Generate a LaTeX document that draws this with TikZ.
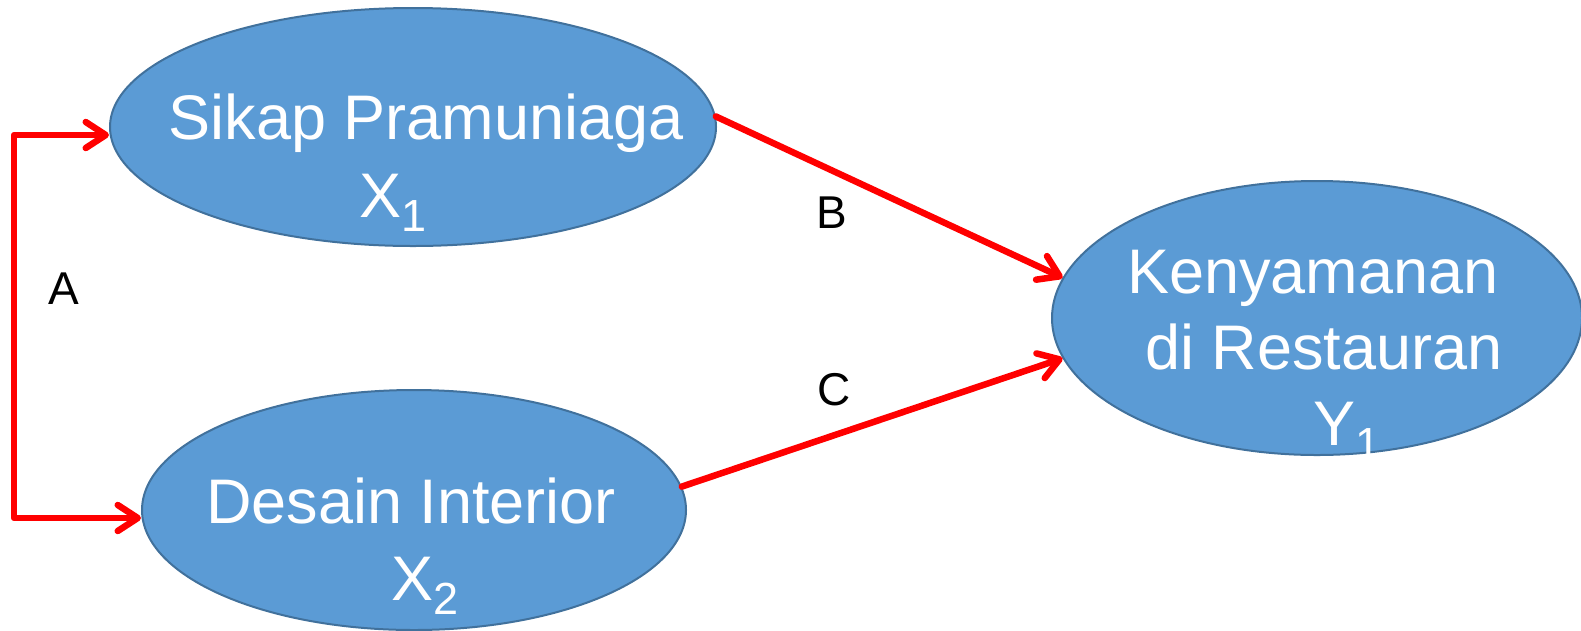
\documentclass[tikz,border=0pt]{standalone}
\usepackage{fontspec}
\setmainfont{Liberation Sans}
\usetikzlibrary{shapes.geometric,arrows.meta}
\definecolor{fillblue}{HTML}{5B9BD5}
\definecolor{edgeblue}{HTML}{41719C}
\newcommand\mysub[1]{\raisebox{-14pt}{\fontsize{45}{45}\selectfont #1}}
\tikzset{
  var/.style={ellipse, draw=edgeblue, line width=2pt, fill=fillblue, inner sep=0pt},
  vtext/.style={anchor=base, text=white, font=\fontsize{63}{63}\selectfont, inner sep=0pt},
  lbl/.style={anchor=base, text=black, font=\fontsize{46}{46}\selectfont, inner sep=0pt},
  barb/.tip={Straight Barb[length=20pt,width=26pt,line width=6.5pt,round]},
  arr/.style={draw=red, line width=6.5pt, line cap=round, line join=round, -barb},
}
\begin{document}
\begin{tikzpicture}[x=1pt,y=-1pt]
\useasboundingbox (0,0) rectangle (1581,630);
\node[var, minimum width=606pt, minimum height=238pt] (s) at (413,127) {};
\node[var, minimum width=544pt, minimum height=240pt] (d) at (414,510) {};
\node[var, minimum width=530pt, minimum height=274pt] (k) at (1317,318) {};
% texts
\node[vtext] (s1) at (426,139) {Sikap Pramuniaga};
\node[vtext] (s2) at (393,217) {X\mysub{1}};
\node[vtext] (d1) at (411,523) {Desain Interior};
\node[vtext] (d2) at (425,600) {X\mysub{2}};
\node[vtext] (k1) at (1313,293) {Kenyamanan};
\node[vtext] (k2) at (1324,369) {di Restauran};
\node[vtext] (k3) at (1347,445) {Y\mysub{1}};
% connectors
\coordinate (a1) at (14,135);
\coordinate (a2) at (14,518);
\draw[arr, barb-barb] (a1 -| s.west) -- (a1) -- (a2) -- (a2 -| d.west);
\draw[arr] (s.2) -- (k.171);
\draw[arr] (d.5) -- (k.189);
% labels
\node[lbl] (la) at (64,304) {A};
\node[lbl] (lb) at (832,228) {B};
\node[lbl] (lc) at (834,405) {C};
\end{tikzpicture}
\end{document}
